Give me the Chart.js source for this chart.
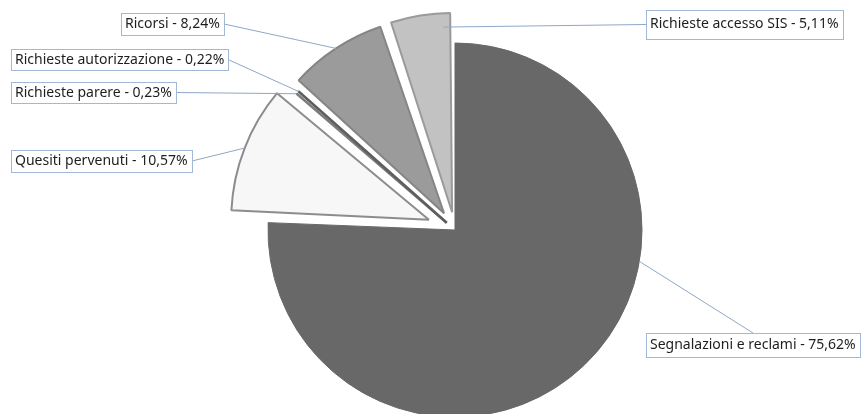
<!DOCTYPE html>
<html>
<head>
<meta charset="utf-8">
<script src="https://cdn.jsdelivr.net/npm/chart.js@4.4.1/dist/chart.umd.min.js"></script>
<style>
  html, body { margin: 0; padding: 0; background: #fff; }
  #wrap { width: 864px; height: 414px; }
</style>
</head>
<body>
<div id="wrap"><canvas id="pieChart"></canvas></div>
<script>
// dati
const categories = ['Segnalazioni e reclami', 'Quesiti pervenuti', 'Richieste parere',
  'Richieste autorizzazione', 'Ricorsi', 'Richieste accesso SIS'];
const percentages = [75.62, 10.57, 0.23, 0.22, 8.24, 5.11];

// stile delle fette
const sliceColors = ['#686868', '#f7f7f7', '#8a8a8a', '#5a5a5a', '#9b9b9b', '#c2c2c2'];
const sliceBorders = ['#686868', '#8c8c8c', '#7c7c7c', '#5e5e5e', '#858585', '#9a9a9a'];
const sliceOffsets = [0, 112, 44, 44, 80, 72];

// etichette: [left, top, height, lato di aggancio], punto sulla fetta [frazione angolo, frazione raggio]
const labelBoxes = [
  [646, 333, 24, 'top'],
  [11, 150, 22, 'right'],
  [11, 82, 21, 'right'],
  [11, 49, 21, 'right'],
  [121, 13, 22, 'right'],
  [646, 10, 29, 'left']
];
const labelAnchors = [[0.366, 1], [0.5, 1], [0.5, 1], [0.5, 1], [0.5, 1], [0.85, 0.93]];

const fmt = v => v.toFixed(2).replace('.', ',') + '%';

const calloutPlugin = {
  id: 'callouts',
  afterDatasetsDraw(chart) {
    const ctx = chart.ctx;
    const meta = chart.getDatasetMeta(0);
    ctx.save();
    ctx.font = '14px "Noto Sans", "Open Sans", sans-serif';
    ctx.textBaseline = 'middle';
    meta.data.forEach((arc, i) => {
      const p = arc.getProps(['x', 'y', 'startAngle', 'endAngle', 'outerRadius'], true);
      const off = (sliceOffsets[i] || 0) / 4;
      const circ = p.endAngle - p.startAngle;
      const half = (p.startAngle + p.endAngle) / 2;
      const fix = 1 - Math.sin(Math.min(Math.PI, circ));
      const cx = p.x + Math.cos(half) * off;
      const cy = p.y + Math.sin(half) * off;
      const r = (p.outerRadius + off * fix) * labelAnchors[i][1];
      const a = p.startAngle + circ * labelAnchors[i][0];
      const ax = cx + Math.cos(a) * r;
      const ay = cy + Math.sin(a) * r;

      const text = categories[i] + ' - ' + fmt(percentages[i]);
      const [bx, by, bh, side] = labelBoxes[i];
      const bw = Math.round(ctx.measureText(text).width) + 8;
      let lx, ly;
      if (side === 'right') { lx = bx + bw; ly = by + bh / 2; }
      else if (side === 'left') { lx = bx; ly = by + bh / 2; }
      else { lx = bx + bw / 2; ly = by; }

      ctx.strokeStyle = '#8ea7c7';
      ctx.lineWidth = 1;
      ctx.beginPath();
      ctx.moveTo(ax, ay);
      ctx.lineTo(lx, ly);
      ctx.stroke();

      ctx.fillStyle = '#ffffff';
      ctx.fillRect(bx, by, bw, bh);
      ctx.strokeStyle = '#a3b8d4';
      ctx.strokeRect(bx + 0.5, by + 0.5, bw, bh);
      ctx.fillStyle = '#1e1e1e';
      ctx.fillText(text, bx + 4, by + (side === 'left' ? 14 : bh / 2 + 0.5));
    });
    ctx.restore();
  }
};

new Chart(document.getElementById('pieChart'), {
  type: 'pie',
  data: {
    labels: categories,
    datasets: [{
      data: percentages,
      backgroundColor: sliceColors,
      borderColor: sliceBorders,
      borderWidth: [1, 2, 2.5, 2.5, 2, 2],
      offset: sliceOffsets,
      clip: false
    }]
  },
  options: {
    responsive: true,
    maintainAspectRatio: false,
    animation: false,
    events: [],
    radius: 187,
    layout: { padding: { left: 46, top: 46, right: 0, bottom: 0 } },
    plugins: {
      legend: { display: false },
      tooltip: { enabled: false }
    }
  },
  plugins: [calloutPlugin]
});
</script>
</body>
</html>
